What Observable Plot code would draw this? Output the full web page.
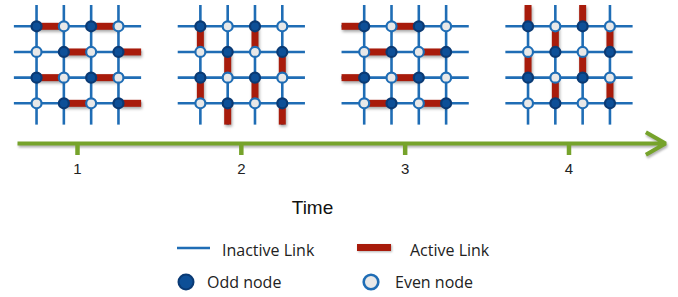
<!DOCTYPE html>
<html>
<head>
<meta charset="utf-8">
<script src="https://cdn.jsdelivr.net/npm/d3@7"></script>
<script src="https://cdn.jsdelivr.net/npm/@observablehq/plot@0.6"></script>
<style>
  html, body { margin: 0; padding: 0; background: #fff; }
  #wrap { position: relative; width: 678px; height: 297px; overflow: hidden; }
  #chart svg { display: block; }
  .lg { position: absolute; font-family: "Open Sans", sans-serif; font-size: 16px; color: #222; line-height: 1; white-space: nowrap; }
  .ic { position: absolute; overflow: visible; }
</style>
</head>
<body>
<div id="wrap">
  <div id="chart"></div>
  <div id="legend"></div>
</div>
<script>
// ---- data ----
const times = [1, 2, 3, 4];
const tickLabels = ["1", "2", "3", "4"];
const activeDirections = ["E", "S", "W", "N"];   // direction of the active link of each odd node
const gridRows = [0, 1, 2, 3];
const gridCols = [0, 1, 2, 3];
const nodeTypes = ["Odd node", "Even node"];
const linkTypes = ["Inactive Link", "Active Link"];
const axisTitle = "Time";

// ---- styles ----
const BLUE = "#1f6db5";
const RED = "#a81b0b";
const GREEN = "#76a32b";
const ODD_FILL = "#0d4f97", ODD_STROKE = "#0a3a74";
const EVEN_FILL = "#e8e8e8", EVEN_STROKE = "#1f6db5";

// ---- layout (x in time units, y in pixels) ----
const colStep = 1 / 6;          // time units between columns
const rowStep = 25.67;          // px between rows
const rowTop = 25.8;
const ext = 0.83;               // line extension beyond outer nodes, in steps
const colX = (t, c) => t + (c - 1.5) * colStep;
const rowY = r => rowTop + r * rowStep;
const axisY = 143;

const dirVec = {E: [0, 1], W: [0, -1], S: [1, 0], N: [-1, 0]};

const hLines = [], vLines = [], nodes = [], active = [];
times.forEach((t, i) => {
  gridRows.forEach(r => hLines.push({x1: colX(t, -ext), x2: colX(t, 3 + ext), y: rowY(r)}));
  gridCols.forEach(c => vLines.push({x: colX(t, c), y1: rowY(-ext), y2: rowY(3 + ext)}));
  gridRows.forEach(r => gridCols.forEach(c => {
    const odd = (r + c) % 2 === 0;
    nodes.push({x: colX(t, c), y: rowY(r), type: odd ? nodeTypes[0] : nodeTypes[1]});
    if (odd) {
      const [dr, dc] = dirVec[activeDirections[i]];
      let r2 = r + dr, c2 = c + dc;
      if (r2 < 0) r2 = -ext; else if (r2 > 3) r2 = 3 + ext;
      if (c2 < 0) c2 = -ext; else if (c2 > 3) c2 = 3 + ext;
      active.push({x1: colX(t, c), y1: rowY(r), x2: colX(t, c2), y2: rowY(r2)});
    }
  }));
});

const W = 678, H = 232;
const pxPerT = 163.83;
const x0 = 1 - 77 / pxPerT;

const chart = Plot.plot({
  width: W, height: H,
  marginLeft: 0, marginRight: 0, marginTop: 0, marginBottom: 0,
  x: {domain: [x0, x0 + W / pxPerT], range: [0, W], axis: null},
  y: {domain: [0, H], range: [0, H], axis: null},
  style: {background: "white"},
  marks: [
    Plot.link(hLines, {x1: "x1", x2: "x2", y1: "y", y2: "y", stroke: BLUE, strokeWidth: 2.6, strokeLinecap: "butt"}),
    Plot.link(vLines, {x1: "x", x2: "x", y1: "y1", y2: "y2", stroke: BLUE, strokeWidth: 2.6, strokeLinecap: "butt"}),
    Plot.link(active, {x1: "x1", x2: "x2", y1: "y1", y2: "y2", stroke: RED, strokeWidth: 7, strokeLinecap: "butt",
      imageFilter: "drop-shadow(1px 2px 1.5px rgba(0,0,0,0.35))"}),
    Plot.dot(nodes, {x: "x", y: "y", r: 5,
      fill: d => d.type === nodeTypes[0] ? ODD_FILL : EVEN_FILL,
      stroke: d => d.type === nodeTypes[0] ? ODD_STROKE : EVEN_STROKE,
      strokeWidth: 2.2}),
    Plot.arrow([0], {x1: x0 + 17 / pxPerT, x2: x0 + 665 / pxPerT, y1: axisY, y2: axisY,
      stroke: GREEN, strokeWidth: 4, headLength: 8.5, headAngle: 60, strokeLinecap: "butt",
      imageFilter: "drop-shadow(1px 2px 1.2px rgba(0,0,0,0.3))"}),
    Plot.ruleX(times, {x: d => d, y1: axisY, y2: axisY + 12, stroke: GREEN, strokeWidth: 4.5}),
    Plot.text(times, {x: d => d, y: axisY + 26, text: (d, i) => tickLabels[i],
      fontFamily: "Liberation Sans, Arial, sans-serif", fontSize: 15, fill: "#222"}),
    Plot.text([axisTitle], {x: x0 + 312 / pxPerT, y: 207, text: d => d,
      fontFamily: "Liberation Sans, Arial, sans-serif", fontSize: 19, fill: "#111"})
  ]
});
document.getElementById("chart").append(chart);

// ---- legend (below the SVG) ----
const lg = document.getElementById("legend");
const svgNS = "http://www.w3.org/2000/svg";
function icon(left, top, w, h, build) {
  const s = document.createElementNS(svgNS, "svg");
  s.setAttribute("class", "ic");
  s.setAttribute("width", w); s.setAttribute("height", h);
  s.style.left = left + "px"; s.style.top = top + "px";
  s.innerHTML = build;
  lg.append(s);
}
function label(left, top, text) {
  const d = document.createElement("div");
  d.className = "lg"; d.style.left = left + "px"; d.style.top = top + "px";
  d.textContent = text; lg.append(d);
}
icon(177, 245, 33, 6, `<line x1="0" x2="33" y1="3" y2="3" stroke="${BLUE}" stroke-width="2.6"/>`);
label(222, 242, linkTypes[0]);
icon(357, 243, 36, 10, `<rect x="0" y="1" width="34" height="7" fill="${RED}" style="filter:drop-shadow(1px 1.5px 1px rgba(0,0,0,0.3))"/>`);
label(410, 242, linkTypes[1]);
icon(176, 272, 20, 20, `<circle cx="10" cy="10" r="7.5" fill="${ODD_FILL}" stroke="${ODD_STROKE}" stroke-width="2"/>`);
label(207, 274, nodeTypes[0]);
icon(361, 272, 20, 20, `<circle cx="10" cy="10" r="7.3" fill="${EVEN_FILL}" stroke="${EVEN_STROKE}" stroke-width="2.6"/>`);
label(395, 274, nodeTypes[1]);
</script>
</body>
</html>
